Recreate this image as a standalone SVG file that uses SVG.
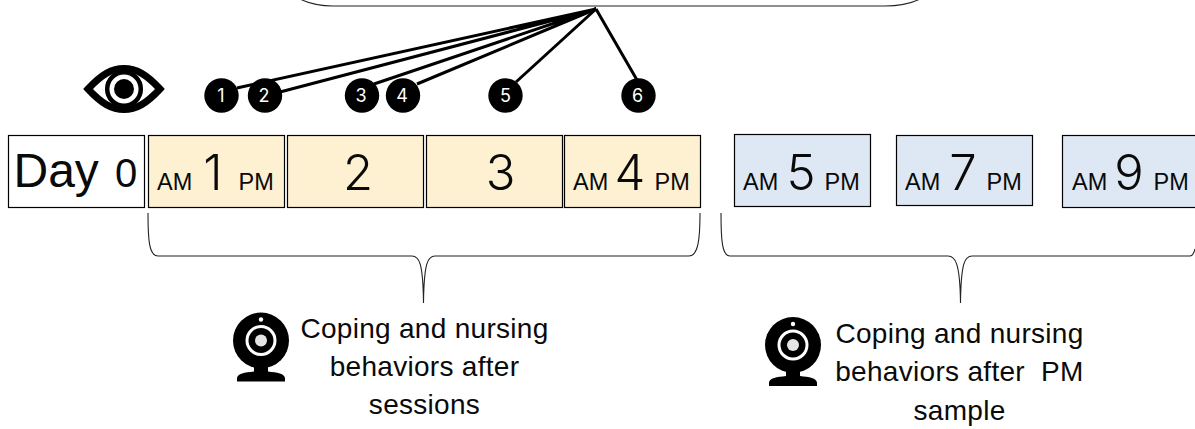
<svg xmlns="http://www.w3.org/2000/svg" width="1195" height="429" viewBox="0 0 1195 429">
<style>
.day{stroke:#000;stroke-width:1.2}
.y{fill:#fdf1d2}.b{fill:#dde8f4}
.t{font-family:"Liberation Sans",Arial,sans-serif;fill:#0a0a0a}
.ap{font-size:23.500px}
.n{font-family:"Inter","Liberation Sans",sans-serif;font-size:49px;font-weight:350;text-anchor:middle;fill:#0a0a0a}
.l{font-size:28px;text-anchor:middle;letter-spacing:.3px}
.c{font-family:"Inter","Liberation Sans",sans-serif;font-size:18px;fill:#fff;text-anchor:middle}
.cn{stroke:#000;stroke-width:3;fill:none}
.br{stroke:#222;stroke-width:1.100;fill:none}
</style>
<defs>
<g id="cam">
<circle cx="0" cy="0" r="28" fill="#000"/>
<circle cx="0" cy="0" r="14" fill="none" stroke="#fff" stroke-width="3"/>
<circle cx="0" cy="0" r="6" fill="#e4e4e4"/>
<circle cx="0" cy="-21" r="2.200" fill="#fff"/>
<path d="M-7 24H7V31C16 32 24 33 24 38V41H-24V38C-24 33-16 32-7 31Z" fill="#000"/>
</g>
</defs>
<path id="top-box" class="br" d="M300 -1C308 3 318 6 333 6H885C900 6 912 3 920 -1"/>
<g id="connectors">
<path class="cn" d="M237 88L596 9M280 92L596 9M374 84L596 9M417 84L596 9"/>
<path class="cn" d="M516 82L596 9M637 80L596 9"/>
</g>
<g id="eye">
<path d="M88 89C102 74 112 68.500 124 68.500C136 68.500 146 74 160 89C146 104 136 109.500 124 109.500C112 109.500 102 104 88 89Z" fill="none" stroke="#000" stroke-width="7"/>
<circle cx="124" cy="89" r="16.800" fill="none" stroke="#000" stroke-width="4.500"/>
<circle cx="124" cy="89" r="10" fill="#000"/>
</g>
<g id="m1"><circle cx="221.500" cy="95.500" r="17.200"/><text class="c" x="221" y="102">1</text></g>
<g id="m2"><circle cx="265" cy="95.500" r="17.200"/><text class="c" x="264" y="102">2</text></g>
<g id="m3"><circle cx="362" cy="95.500" r="17.200"/><text class="c" x="361" y="102">3</text></g>
<g id="m4"><circle cx="403" cy="95.500" r="17.200"/><text class="c" x="402" y="102">4</text></g>
<g id="m5"><circle cx="505.500" cy="95.500" r="17.200"/><text class="c" x="505.500" y="102">5</text></g>
<g id="m6"><circle cx="638.500" cy="95.500" r="17.200"/><text class="c" x="637.500" y="102">6</text></g>
<g id="day0"><rect class="day" x="8.500" y="135.500" width="136" height="72" fill="#fff"/><text class="t" x="13.500" y="187" font-size="48">Day</text><text class="t" x="115" y="187" font-size="40">0</text></g>
<g id="day1"><rect class="day y" x="148.500" y="135.500" width="136" height="72"/><text class="t ap" x="157" y="190">AM</text><text class="n" x="213" y="190">1</text><text class="t ap" x="238.500" y="190">PM</text></g>
<g id="day2"><rect class="day y" x="287.500" y="135.500" width="136" height="72"/><text class="n" x="358" y="190">2</text></g>
<g id="day3"><rect class="day y" x="426.500" y="135.500" width="136" height="72"/><text class="n" x="500.500" y="190">3</text></g>
<g id="day4"><rect class="day y" x="564.500" y="135.500" width="136" height="72"/><text class="t ap" x="573" y="190">AM</text><text class="n" x="630" y="190">4</text><text class="t ap" x="654.500" y="190">PM</text></g>
<g id="day5"><rect class="day b" x="734.500" y="134.500" width="136" height="72"/><text class="t ap" x="743" y="190">AM</text><text class="n" x="801" y="190">5</text><text class="t ap" x="824.500" y="190">PM</text></g>
<g id="day7"><rect class="day b" x="896.500" y="135.500" width="136" height="70"/><text class="t ap" x="905" y="190">AM</text><text class="n" x="963" y="190">7</text><text class="t ap" x="986.500" y="190">PM</text></g>
<g id="day9"><rect class="day b" x="1062.500" y="135.500" width="140" height="72"/><text class="t ap" x="1072" y="190">AM</text><text class="n" x="1129" y="190">9</text><text class="t ap" x="1153.500" y="190">PM</text></g>
<g id="braces">
<path class="br" d="M148 213C148 240 149 256 158 256H412C419 256 423 262 423.500 303C424 262 428 256 435 256H689C698 256 700 240 700 213"/>
<path class="br" d="M721 213C721 240 722 256 730 256H948C955 256 960 262 960.500 303C961 262 965 256 972 256H1190C1193 256 1194 253 1195 249"/>
</g>
<g id="note-left">
<use href="#cam" x="261" y="340.500"/>
<text class="t l" x="424.500" y="338">Coping and nursing</text>
<text class="t l" x="424.500" y="376">behaviors after</text>
<text class="t l" x="424.500" y="414">sessions</text>
</g>
<g id="note-right">
<use href="#cam" x="793" y="345"/>
<text class="t l" x="959.500" y="343">Coping and nursing</text>
<text class="t l" x="959.500" y="381">behaviors after&#160; PM</text>
<text class="t l" x="959.500" y="420">sample</text>
</g>
</svg>
